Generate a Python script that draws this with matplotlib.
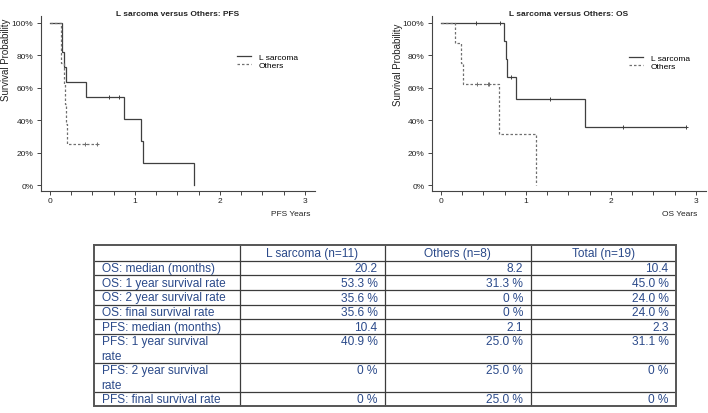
import matplotlib
matplotlib.use("Agg")
import matplotlib.pyplot as plt
from matplotlib.lines import Line2D
from matplotlib.ticker import MultipleLocator, FuncFormatter

plt.rcParams['font.family'] = ['Liberation Sans', 'DejaVu Sans']

# ---------------- data ----------------
# PFS, L sarcoma
pfs_l_t = [0, 0.145, 0.165, 0.185, 0.42, 0.87, 1.067, 1.098, 1.69]
pfs_l_s = [1.0, 0.818, 0.727, 0.636, 0.545, 0.409, 0.273, 0.136, 0.0]
pfs_l_cens_t = [0.69, 0.815]
pfs_l_cens_s = [0.545, 0.545]
# PFS, Others
pfs_o_t = [0, 0.125, 0.135, 0.16, 0.175, 0.19, 0.2, 0.576]
pfs_o_s = [1.0, 0.875, 0.75, 0.625, 0.5, 0.375, 0.25, 0.25]
pfs_o_cens_t = [0.41, 0.556]
pfs_o_cens_s = [0.25, 0.25]
# OS, L sarcoma
os_l_t = [0, 0.741, 0.76, 0.78, 0.882, 1.694, 2.88]
os_l_s = [1.0, 0.889, 0.778, 0.667, 0.533, 0.356, 0.356]
os_l_cens_t = [0.415, 0.70, 0.824, 1.282, 2.145, 2.88]
os_l_cens_s = [1.0, 1.0, 0.667, 0.533, 0.356, 0.356]
# OS, Others
os_o_t = [0, 0.165, 0.23, 0.26, 0.686, 1.12]
os_o_s = [1.0, 0.875, 0.75, 0.625, 0.3125, 0.0]
os_o_cens_t = [0.42, 0.55, 0.565]
os_o_cens_s = [0.625, 0.625, 0.625]

group_names = ["L sarcoma", "Others"]
titles = ["L sarcoma versus Others: PFS", "L sarcoma versus Others: OS"]
xlabels = ["PFS Years", "OS Years"]
ylabel = "Survival Probability"

# table
col_headers = ["L sarcoma (n=11)", "Others (n=8)", "Total (n=19)"]
row_labels = ["OS: median (months)", "OS: 1 year survival rate", "OS: 2 year survival rate",
              "OS: final survival rate", "PFS: median (months)", "PFS: 1 year survival\nrate",
              "PFS: 2 year survival\nrate", "PFS: final survival rate"]
vals_l = ["20.2", "53.3 %", "35.6 %", "35.6 %", "10.4", "40.9 %", "0 %", "0 %"]
vals_o = ["8.2", "31.3 %", "0 %", "0 %", "2.1", "25.0 %", "25.0 %", "25.0 %"]
vals_t = ["10.4", "45.0 %", "24.0 %", "24.0 %", "2.3", "31.1 %", "0 %", "0 %"]

# ---------------- figure ----------------
W, H = 708, 414
fig = plt.figure(figsize=(W / 100, H / 100), dpi=100)

def fx(x):
    return x / W

def fy(y):
    return 1 - y / H

axc = '#444444'
solid_c = '#3f3f3f'
dash_c = '#707070'

panels = [
    dict(left=41, right=315, curves=(pfs_l_t, pfs_l_s, pfs_l_cens_t, pfs_l_cens_s,
                                     pfs_o_t, pfs_o_s, pfs_o_cens_t, pfs_o_cens_s),
         title=titles[0], xlabel=xlabels[0], xlab_x=310, ylab_x=6, ylab_y=60,
         leg_x=237, leg_y=62),
    dict(left=432, right=706, curves=(os_l_t, os_l_s, os_l_cens_t, os_l_cens_s,
                                      os_o_t, os_o_s, os_o_cens_t, os_o_cens_s),
         title=titles[1], xlabel=xlabels[1], xlab_x=697, ylab_x=398, ylab_y=65,
         leg_x=629, leg_y=63),
]

top_px, bot_px = 17, 192
for p in panels:
    ax = fig.add_axes([fx(p['left']), fy(bot_px), (p['right'] - p['left']) / W, (bot_px - top_px) / H])
    lt, ls, lct, lcs, ot, os_, oct_, ocs = p['curves']
    ax.step(lt, ls, where='post', color=solid_c, lw=0.9, solid_joinstyle='miter')
    ax.plot(lct, lcs, ls='none', marker='+', ms=3.5, mew=0.7, color=solid_c)
    ax.step(ot, os_, where='post', color=dash_c, lw=0.9, linestyle=(0, (2, 1.6)))
    ax.plot(oct_, ocs, ls='none', marker='+', ms=3.5, mew=0.7, color=dash_c)

    ax.set_xlim(-0.106, 3.12)
    ax.set_ylim(-0.037, 1.043)
    for s in ['top', 'right']:
        ax.spines[s].set_visible(False)
    for s in ['left', 'bottom']:
        ax.spines[s].set_color(axc)
        ax.spines[s].set_linewidth(0.8)
    ax.xaxis.set_major_locator(MultipleLocator(1))
    ax.xaxis.set_minor_locator(MultipleLocator(0.25))
    ax.yaxis.set_major_locator(MultipleLocator(0.2))
    ax.yaxis.set_major_formatter(FuncFormatter(lambda v, pos: f"{v * 100:.0f}%"))
    ax.tick_params(axis='both', which='both', direction='out', length=3, width=0.7,
                   color=axc, labelsize=6, labelcolor='#222222')
    ax.tick_params(axis='x', pad=1.5)
    ax.tick_params(axis='y', pad=2.5)
    ax.tick_params(axis='x', which='minor', length=3)

    fig.text(fx((p['left'] + p['right']) / 2), fy(14), p['title'], ha='center', va='center',
             fontsize=6, fontweight='bold', color='#222222')
    fig.text(fx(p['xlab_x']), fy(215), p['xlabel'], ha='right', va='center', fontsize=6,
             color='#222222')
    fig.text(fx(p['ylab_x']), fy(p['ylab_y']), ylabel, rotation=90, ha='center', va='center',
             fontsize=7, color='#222222')

    handles = [Line2D([], [], color=solid_c, lw=0.9),
               Line2D([], [], color=dash_c, lw=0.9, linestyle=(0, (2, 1.6)))]
    ax.legend(handles, group_names, loc='center left',
              bbox_to_anchor=(fx(p['leg_x']), fy(p['leg_y'])), bbox_transform=fig.transFigure,
              frameon=False, fontsize=6, handlelength=1.7, handletextpad=0.9,
              labelspacing=0.1, borderpad=0, borderaxespad=0)

# ---------------- table ----------------
axt = fig.add_axes([0, 0, 1, 1])
axt.set_xlim(0, W)
axt.set_ylim(H, 0)
axt.axis('off')

col_x = [94, 239.5, 385, 530.5, 676]
table_top = 246
header_h = 15.7
line_h = 14.4
row_h1 = 14.6
txt_c = '#2b4a8a'
fs_tab = 8.6

row_tops = [table_top + header_h]
for lab in row_labels:
    nlines = lab.count('\n') + 1
    row_tops.append(row_tops[-1] + row_h1 + (nlines - 1) * line_h)
table_bot = row_tops[-1]

# header
for j, h in enumerate(col_headers):
    axt.text((col_x[j + 1] + col_x[j + 2]) / 2, table_top + header_h / 2 + 0.5, h,
             ha='center', va='center', fontsize=fs_tab, color=txt_c)

cols = [vals_l, vals_o, vals_t]
for i, lab in enumerate(row_labels):
    y0 = row_tops[i]
    for k, line in enumerate(lab.split('\n')):
        axt.text(col_x[0] + 7.5, y0 + 7.6 + k * line_h, line, ha='left', va='center',
                 fontsize=fs_tab, color=txt_c)
    for j, vals in enumerate(cols):
        axt.text(col_x[j + 2] - 7.5, y0 + 7.6, vals[i], ha='right', va='center',
                 fontsize=fs_tab, color=txt_c)

line_c = '#3c3c3c'
# horizontal inner lines
for y in row_tops[:-1]:
    axt.plot([col_x[0], col_x[-1]], [y, y], color=line_c, lw=0.9, solid_capstyle='butt')
# vertical inner lines
for x in col_x[1:-1]:
    axt.plot([x, x], [table_top, table_bot], color=line_c, lw=0.9, solid_capstyle='butt')
# outer border
axt.plot([col_x[0], col_x[-1], col_x[-1], col_x[0], col_x[0]],
         [table_top, table_top, table_bot, table_bot, table_top],
         color='#555555', lw=1.4, solid_joinstyle='miter')

fig.savefig('out.png', dpi=100)
